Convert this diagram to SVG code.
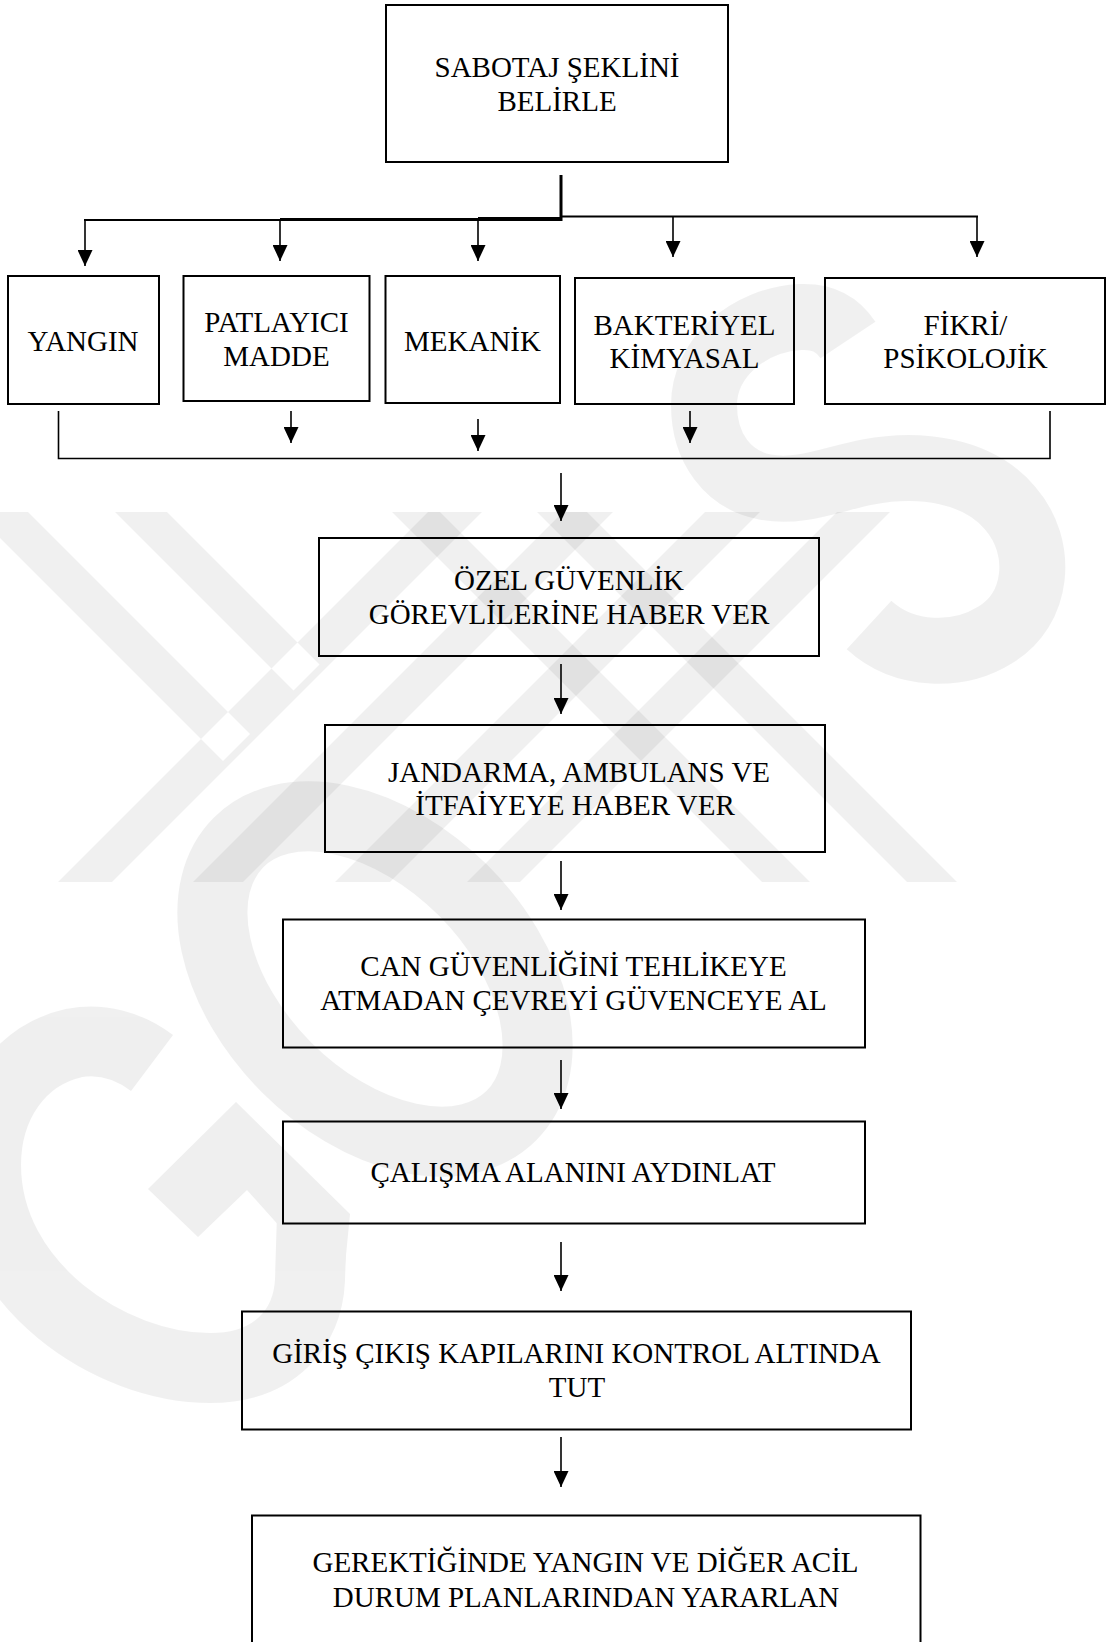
<svg xmlns="http://www.w3.org/2000/svg" width="1106" height="1642" viewBox="0 0 1106 1642">
<defs>
<marker id="ah" markerUnits="userSpaceOnUse" markerWidth="16" markerHeight="15" viewBox="0 0 16 15" refX="16" refY="7.5" orient="auto"><path d="M0,0 L16,7.5 L0,15 Z" fill="#000"/></marker>
<style>
.box{fill:none;stroke:#000;stroke-width:2}
.t{font-family:"Liberation Serif","Times New Roman",serif;font-size:29px;fill:#000;text-anchor:middle}
.c{fill:none;stroke:#000;stroke-width:1.6}
.a{fill:none;stroke:#000;stroke-width:1.6;marker-end:url(#ah)}
.wm{opacity:0.06}
.wm *{fill:#000}
.wm .s{fill:none;stroke:#000}
</style>
</defs>
<rect width="1106" height="1642" fill="#fff"/>

<g id="watermark">
  <g class="wm"><path d="M58,882 L112,882 L482,512 L428,512 Z M-26,512 L28,512 L250,734 L223,761 Z M115,512 L167,512 L319.5,664.5 L293.5,690.5 Z"/></g>
  <g class="wm"><polygon points="193,882 243,882 613,512 563,512"/></g>
  <g class="wm"><polygon points="335,882 390,882 760,512 705,512"/></g>
  <g class="wm"><polygon points="467,882 520,882 890,512 837,512"/></g>
  <g class="wm"><polygon points="392,512 440,512 810,882 762,882"/></g>
  <g class="wm"><polygon points="537,512 587,512 957,882 907,882"/></g>
  <g class="wm"><ellipse class="s" cx="375" cy="979" rx="193" ry="125" transform="rotate(45 375 979)" stroke-width="70"/></g>
  <g class="wm"><path class="s" stroke-width="66" d="M848,340 C836,322 820,316 800,317 C748,320 704,358 704,405 C704,448 728,480 765,487 C800,494 835,478 868,472 C920,462 978,470 1010,508 C1045,548 1038,610 995,635 C960,657 905,658 869,625"/></g>
  <g class="wm"><path class="s" stroke-width="70" d="M152,1063 C128,1045 100,1038 74,1043 C20,1055 -14,1105 -14,1165 C-14,1285 110,1368 210,1368 C275,1368 308,1328 310,1280 L312,1215"/><polygon points="148,1189 236,1102 350,1214 345,1265 290,1238 247,1190 198,1237"/></g>
</g>

<g id="connectors">
  <line x1="561" y1="175" x2="561" y2="221" stroke="#000" stroke-width="3"/>
  <line x1="84" y1="220" x2="280" y2="220" stroke="#000" stroke-width="2"/>
  <line x1="280" y1="219.5" x2="478" y2="219.5" stroke="#000" stroke-width="3"/>
  <line x1="478" y1="219" x2="562" y2="219" stroke="#000" stroke-width="4"/>
  <line x1="561" y1="216.5" x2="978" y2="216.5" stroke="#000" stroke-width="2"/>
  <line class="a" x1="85" y1="220" x2="85" y2="266"/>
  <line class="a" x1="280" y1="219" x2="280" y2="261"/>
  <line class="a" x1="478" y1="219" x2="478" y2="261"/>
  <line class="a" x1="673" y1="216" x2="673" y2="257"/>
  <line class="a" x1="977" y1="216" x2="977" y2="257"/>

  <polyline class="c" points="58.5,411 58.5,458.5 1050,458.5 1050,411"/>
  <line class="a" x1="291" y1="411" x2="291" y2="443"/>
  <line class="a" x1="478" y1="419" x2="478" y2="451"/>
  <line class="a" x1="690" y1="411" x2="690" y2="443"/>

  <line class="a" x1="561" y1="473" x2="561" y2="521"/>
  <line class="a" x1="561" y1="664" x2="561" y2="714"/>
  <line class="a" x1="561" y1="861" x2="561" y2="910"/>
  <line class="a" x1="561" y1="1060" x2="561" y2="1109"/>
  <line class="a" x1="561" y1="1242" x2="561" y2="1291"/>
  <line class="a" x1="561" y1="1437" x2="561" y2="1487"/>
</g>

<g id="n-sabotaj">
  <rect class="box" x="386" y="5" width="342" height="157"/>
  <text class="t" x="557" y="77">SABOTAJ ŞEKLİNİ</text>
  <text class="t" x="557" y="111">BELİRLE</text>
</g>
<g id="n-yangin">
  <rect class="box" x="8" y="276" width="151" height="128"/>
  <text class="t" x="83" y="351">YANGIN</text>
</g>
<g id="n-patlayici">
  <rect class="box" x="183.5" y="276" width="186" height="125"/>
  <text class="t" x="276.5" y="332">PATLAYICI</text>
  <text class="t" x="276.5" y="366">MADDE</text>
</g>
<g id="n-mekanik">
  <rect class="box" x="385.5" y="276" width="174.5" height="127"/>
  <text class="t" x="472.5" y="351">MEKANİK</text>
</g>
<g id="n-bakteriyel">
  <rect class="box" x="575" y="278" width="219" height="126"/>
  <text class="t" x="684.5" y="335">BAKTERİYEL</text>
  <text class="t" x="684.5" y="368">KİMYASAL</text>
</g>
<g id="n-fikri">
  <rect class="box" x="825" y="278" width="280" height="126"/>
  <text class="t" x="965.5" y="335">FİKRİ/</text>
  <text class="t" x="965.5" y="368">PSİKOLOJİK</text>
</g>
<g id="n-ozel">
  <rect class="box" x="319" y="538" width="500" height="118"/>
  <text class="t" x="569" y="590">ÖZEL GÜVENLİK</text>
  <text class="t" x="569" y="624">GÖREVLİLERİNE HABER VER</text>
</g>
<g id="n-jandarma">
  <rect class="box" x="325" y="725" width="500" height="127"/>
  <text class="t" x="579" y="782">JANDARMA, AMBULANS VE</text>
  <text class="t" x="575" y="815">İTFAİYEYE HABER VER</text>
</g>
<g id="n-can">
  <rect class="box" x="283" y="919.5" width="582" height="128"/>
  <text class="t" x="573.5" y="976">CAN GÜVENLİĞİNİ TEHLİKEYE</text>
  <text class="t" x="573.5" y="1010">ATMADAN ÇEVREYİ GÜVENCEYE AL</text>
</g>
<g id="n-calisma">
  <rect class="box" x="283" y="1121.5" width="582" height="102"/>
  <text class="t" x="573" y="1182">ÇALIŞMA ALANINI AYDINLAT</text>
</g>
<g id="n-giris">
  <rect class="box" x="242" y="1311.5" width="669" height="118"/>
  <text class="t" x="576.5" y="1363">GİRİŞ ÇIKIŞ KAPILARINI KONTROL ALTINDA</text>
  <text class="t" x="577" y="1397">TUT</text>
</g>
<g id="n-gerektiginde">
  <rect class="box" x="252" y="1515.5" width="668.5" height="145"/>
  <text class="t" x="585.5" y="1572">GEREKTİĞİNDE YANGIN VE DİĞER ACİL</text>
  <text class="t" x="586" y="1607">DURUM PLANLARINDAN YARARLAN</text>
</g>
</svg>
